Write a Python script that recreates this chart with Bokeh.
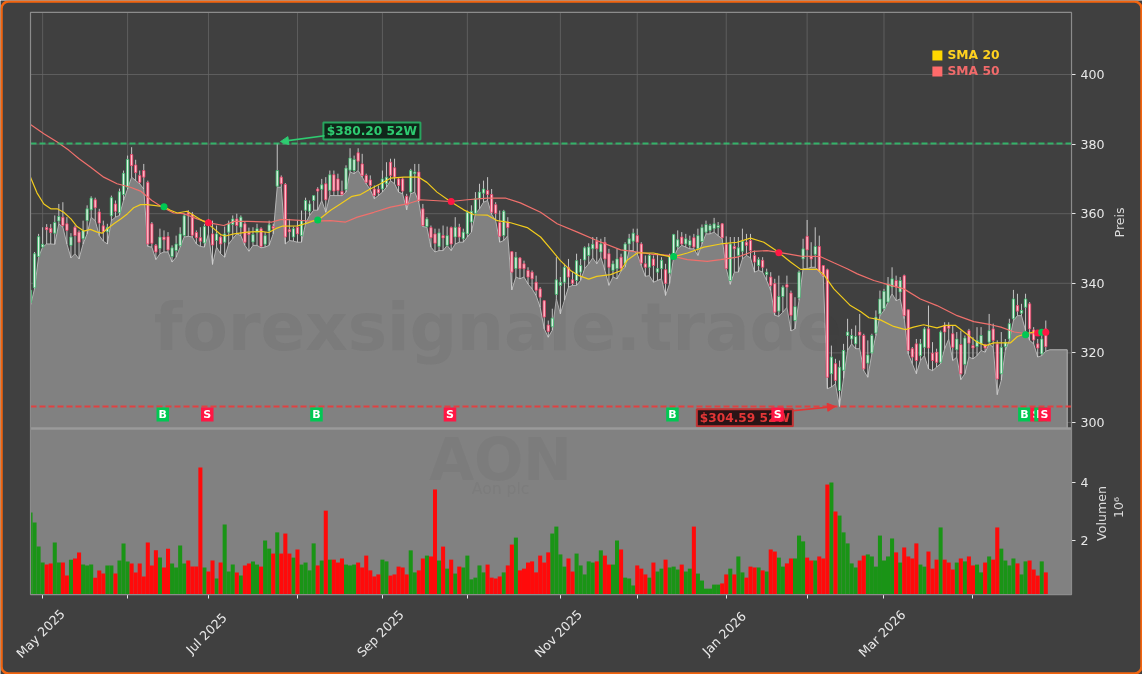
from math import pi
from bokeh.plotting import figure
from bokeh.models import Range1d, LinearAxis, FixedTicker, Label, Arrow, NormalHead, BoxAnnotation
from bokeh.core.properties import value
from bokeh.embed import file_html
from bokeh.resources import INLINE

# ---- data ----
opens = [334.5,338.7,347.7,350.4,356,355.8,354.4,357.9,359,357.1,
350.9,356.1,354.7,352.8,358,361.1,364,360.5,356.5,354.8,
359.4,362.8,360.3,365.5,367.6,377,374,371,372.4,369,
357.1,350.9,350,353.3,353.4,347.7,349.4,350.8,353.7,360.3,
359.8,354.6,353.1,351.6,357.8,354.2,352.3,353.3,351.8,354.7,
356.9,358.5,356.1,357.1,354.7,351.9,354.6,355.7,351.2,355,
356.3,367.9,370.5,368.4,355.4,353.3,356.1,353.7,361,360.7,
363.8,367.1,367,368.6,366.7,371.2,370,366.4,366.9,372.5,
372.4,377.5,374.3,371,369.7,367.1,367,367.1,368.6,374.8,
373.2,370,370,365,366.2,371.5,372,361.4,356.3,356,
354.2,350.6,353.7,350.9,356,353.3,356.1,352.8,354.2,357.6,
360.1,364.3,365.9,366.7,365.5,362.6,357.5,353.7,357.6,349.1,
344.2,347.3,345.6,343.7,343.2,340.3,338.4,335,328,327.5,
336.8,339.4,340.3,344.6,341,340.8,343.2,346.7,348,349.9,
352.1,349,351.8,348.5,343.7,344.2,347.5,345.6,351.3,352.1,
353.7,351.3,345.6,344.6,347,343.2,344.2,343.9,342.9,348.5,
350.5,353.3,351.3,350.9,353.1,349.9,352,354.7,355.2,355.7,
356,357.1,351.3,340.8,350.6,348,349.2,351.8,352.3,348,
345.1,346.6,342.5,341.8,339.9,332,336.2,339.6,337.2,329.3,
335.8,347,353.5,347.7,348.3,350.6,345.1,343.9,314,316.9,
309.2,315,325,324,322.6,326,325,317.05,320,325.7,
331.2,332.7,334.6,338.9,340.8,337.5,342.2,332.4,321.2,322.6,
319.2,321.6,326.9,319.9,320.2,317.3,327.9,327.9,325.5,320.9,
322.4,316.7,326.4,322.1,321.8,322.6,322.4,323.1,326.9,322.6,
314,321.8,324,329.8,333.6,331.4,333.1,334.1,326.6,322.6,319.7,326.9]
highs = [338.2,349,354.2,356.1,357,357,359.5,362.8,363.3,359,
354.4,356.6,355.2,358,362.4,365,364.6,361.4,358,357.1,
365.2,363.8,367.2,372.4,376.7,379.1,375.5,372.4,374.3,369.5,
357.6,351.3,355.7,355.2,354.7,350.9,353.7,356.1,360,361,
360.5,355.2,356.1,357.1,358.5,358,356.6,353.7,356.3,358,
359.5,360,359.5,357.6,356,356.1,357.1,356.1,354.7,358,
357.1,380.2,371,368.8,358.5,356.3,358,360.9,364.6,363.8,
365.2,367.6,370,370.5,372.4,372.4,371.5,369.5,373.9,378.8,
376.7,378.8,377.2,371.5,371,368.1,368.1,372.4,374.8,375.8,
375.8,370.5,370.5,365.7,372.9,374.3,374.3,362.8,359,356.6,
355.7,355.7,356.6,356.3,356.3,359,357.1,355.7,360.9,362.4,
366.2,368.6,369.5,370.5,367.1,363.3,360.9,361.1,359,349.2,
349,347.5,346.5,344.6,343.7,342.2,338.9,335.1,329.3,332.7,
347.5,341.8,345.6,347,343.2,348.5,347,350.6,351.5,353.3,
353.3,352.8,353.3,349.9,346.5,349.9,348.5,351.8,354.2,355.7,
355.7,351.8,348,348.5,348,348.5,347.5,345.6,348.5,354.2,
355.2,354.7,354.2,353.7,354.2,355.7,356.9,358,357.1,358.8,
357.6,357.3,353.5,353.3,353.3,353.3,355.7,354.2,354.2,349.4,
347.5,347.5,344.2,343.2,341.3,342.2,339.4,342.2,337.9,336,
343.7,352.8,358.2,351.8,356.1,353.7,345.1,344.2,322.1,318.3,
317.8,322.6,329.8,326.9,327.9,331.2,325.5,323.6,325.5,332.2,
337.9,338.4,341.8,344.6,342.2,341.8,342.5,332.4,321.7,324,
324,327.4,333.6,323.1,321.2,326.4,328.8,328.8,327.9,326,
326.4,325,326.9,324.5,327.4,327.4,322.6,331.2,328.4,323.6,
326,324,329.8,338.1,337,334.1,337,334.6,327.4,324,326.4,329.3]
lows = [333.6,338.4,347.5,350.4,351.3,351.3,351.2,357.1,356.1,351.3,
347.3,348.5,347,351.3,354.2,359,358,353.7,352.1,351.3,
358,359,359.5,363.8,367.1,370.5,369.5,368.6,367.1,350.6,
350.4,346.8,348.5,349,349,346.1,347.5,350.4,353.3,353.5,
353.3,351.3,350.6,350.4,354.2,345.4,350.4,348.5,347.5,351.3,
352.8,354.2,353.7,350.9,349.2,350.9,350.9,350.2,350.4,350.9,
354.2,367.6,367.6,351.3,352.3,352.1,351.8,351.8,357.1,359.5,
361,361,363.8,360.4,365.2,365.2,365.2,365.2,366.2,372,
371.5,372.4,370.5,368.6,366.9,364.3,365.2,366.2,367.6,369.5,
368.6,366.2,365.7,361.1,365.7,366.2,363.3,356.3,356.1,350.4,
349,349.4,349.4,350.9,349.4,351.3,351.8,351.8,353.3,354.7,
360,361.4,363.3,363.8,359.8,358,351.8,352.3,353.7,338.1,
341.8,341.3,341.8,339.8,338.4,336.5,333.1,326.9,324.5,326.5,
335.6,331.2,335.1,338.9,339.4,339.4,340.8,344.2,345.6,347.3,
345.6,347.5,343.7,339.4,341.8,341.3,343.5,344.6,349.4,349.4,
348.5,345.1,342,342.2,340.3,340.8,341.3,336.5,339.9,347.5,
349.9,350.9,350.4,349.9,349.9,348,351.3,354.2,354.2,354.7,
353.7,352.8,344.2,339.7,343.2,343.2,347,348,347.3,343.2,
343.7,343.2,340.8,337.9,330.8,330.5,331.7,333.1,326.3,326.9,
335.1,344.2,344.2,344.6,344.6,343.2,341.8,309.7,310.2,311.1,
304.6,312.6,320.7,322.6,321.2,321.2,314.9,313,319.7,325,
330.7,332.2,334.6,337,335,335.5,329.8,319.7,316.9,314,
317.8,319.2,315.4,314.9,315.9,316.9,321.2,324,317.8,318.8,
312.3,314,318.8,318.3,319.2,320.7,320.2,322.6,321.6,308,
312.1,320.7,323.6,329.3,330.7,330.7,326.4,323.6,322.6,318.8,319.2,320.5]
closes = [338,348.5,353.4,351.2,355.4,354.6,357.5,359.2,356.6,355.2,
353.3,353.7,351.8,355.2,361.4,364.5,361.7,357.3,354.8,356.1,
364.6,360.7,366.3,371.6,375.6,373.8,371.8,369,370.5,351.3,
351.5,349,353.3,352.5,349.6,350.2,351.3,354.2,359.4,359.8,
353.8,353.1,352.1,356.3,356.7,351,354.2,351.3,354.2,357.1,
358.5,356.6,359,351.8,354,354,355.7,350.6,353.7,356.8,
355.8,372.4,368.6,353.3,354.8,355.7,354.2,358,363.8,362.8,
365.2,366.5,368.3,364,371.2,366.5,366.7,365.5,373.1,376,
375.6,375.1,371,369,368.1,365.2,366,370,370.5,371,
370.5,368.1,366.5,362.6,372.4,372,363.8,356.6,358.5,353.1,
351.5,354.5,353,353.7,351.3,356.1,353.3,354.7,360.4,360.7,
364.3,366.2,367.1,365.5,360.4,360.1,353.5,360.7,356,343.2,
347.5,344.2,344.2,341.8,341.3,338,336,330.3,326.2,330,
341,340.3,344.6,341.8,340,346.5,345.1,350.2,350.4,351.2,
349.9,351.3,347,344.6,345.6,347,344.2,351.3,352.8,354.4,
351.8,345.8,344.6,348,345.1,344.2,346.6,340,347.7,354,
352.5,351.3,352.8,352.3,350.4,353.7,356,356.9,356.6,357.1,
356.6,353.1,344.2,351.3,349.9,350.2,352.1,350.9,349.4,346.1,
346.8,344.6,343.2,339.4,331.7,336.2,338.9,338.9,330.8,333.3,
343.2,349.9,349.6,347,350.6,343.5,342.2,313,318.8,312.1,
315.9,320.7,326,325,324.7,325.1,315.4,319.4,325,330.3,
335.5,337.7,339.7,341.3,338.9,340.8,330.7,320.7,318.8,317.8,
322.6,326.9,321.4,317.8,317.3,326,326,327.1,321.6,324,
314,324.3,322.8,321.4,323.6,325,321.4,326.4,323.6,312.5,
321.6,323.1,328.4,335.5,332,332.2,335.5,326.9,323.7,321.4,324,321.8]
volumes = [2.97,2.62,1.79,1.24,1.17,1.21,1.93,1.24,1.24,0.79,
1.34,1.38,1.59,1.17,1.14,1.17,0.72,0.97,0.86,1.14,
1.14,0.86,1.31,1.90,1.28,1.21,0.90,1.21,0.76,1.93,
1.14,1.66,1.41,1.07,1.72,1.21,1.07,1.83,1.21,1.31,
1.10,1.10,4.52,1.07,0.93,1.31,0.69,1.24,2.55,0.93,
1.17,0.90,0.79,1.14,1.21,1.28,1.17,1.10,2.0,1.72,
1.55,2.28,1.55,2.24,1.55,1.41,1.69,1.17,1.24,0.97,
1.90,1.14,1.31,3.03,1.34,1.34,1.24,1.38,1.17,1.14,
1.17,1.24,1.07,1.48,0.97,0.76,0.83,1.34,1.28,0.79,
0.83,1.10,
1.07,.83,1.66,.90,.97,1.38,1.48,1.45,3.76,1.31,1.79,1.03,1.34,.86,1.10,1.07,1.48,.66,.72,1.14,
.90,1.17,.72,.69,.76,.90,1.14,1.86,2.10,.97,1.03,1.24,1.28,.90,1.48,1.24,1.59,2.24,2.48,1.52,
1.10,1.38,.93,1.55,1.14,.83,1.28,1.24,1.28,1.66,1.48,1.17,1.17,2.0,1.69,.72,.69,.45,1.14,1.03,
.83,.72,1.24,.93,1.03,1.34,1.07,1.10,1.0,1.17,.93,1.03,2.48,.86,.62,.34,.34,.48,.48,.52,
.83,1.03,.83,1.45,.90,.72,1.10,1.07,1.07,
.97,.93,1.69,1.62,1.41,1.10,1.21,1.38,1.38,2.17,1.97,1.41,1.31,1.31,1.45,1.38,3.93,4.0,3.0,2.86,
2.28,1.90,1.21,1.07,1.31,1.48,1.52,1.45,1.10,2.17,1.31,1.45,2.07,1.59,1.24,1.76,1.45,1.38,1.90,1.17,
1.10,1.62,1.03,1.34,2.45,1.34,1.24,1.0,1.24,1.38,1.28,1.45,1.14,1.17,.90,1.24,1.45,1.34,2.45,1.72,
1.31,1.14,1.38,1.21,.83,1.28,1.31,1.0,.79,1.28,.90]

sma20_x = [0,1.6,3.3,5,6.6,8.2,10,11.5,13.2,14.8,16.5,17.7,19,20.6,22.3,24,25.5,27.2,28.8,30.5,33,34.6,36.3,38.7,40.4,42,43.7,45.3,47,48.2,50.3,53.6,56.9,58.9,60.6,62.2,66,68.4,71.7,74.2,76.6,79.5,81.6,84,86.5,89,92.3,96,98,100.5,103.8,107.1,109.6,112.9,115.4,118.7,122.8,126.1,128.6,131,133.5,135.6,138,140,143.4,145.9,147.5,150,154,156.6,158.6,162.4,166.5,170.6,174.7,178,181.3,184.6,187.9,190.4,194.5,196.1,198.6,202.7,205.2,207.3,210.1,213.4,216.3,218.3,220.8,224.1,226.2,228.7,231.6,234,236.1,238.2,242.3,244,246,248,251]
sma20_y = [370.5,366,362.8,361.4,361.4,360.4,358.5,356.3,355,355.5,354.7,354.4,355.7,357.1,358.5,360,361.7,362.6,362.6,362.4,362,361,360.2,360.7,359.5,358.3,357.3,355.7,354,353.6,354.2,354.7,354.9,354.6,355.7,356.4,356.5,357.3,358.7,361,362.8,365,365.5,367.1,368.6,370.2,370.5,370.5,369,366.2,363.5,361.1,359.7,359.6,358,357.4,356,353.3,349.9,346.5,343.7,342.2,341.2,342,342.5,343.6,346.6,348.7,348.7,348,347.5,348.7,350.4,351.3,351.8,353,351.8,349.2,346.1,344,344,342.5,338.4,333.6,331.9,330.1,329.5,327.6,326.7,327.4,328.1,327.2,327.9,327.9,325.3,323.1,322.1,322.9,322.9,324.7,325.5,326,325.9]
sma50_x = [0,3.3,6.6,9.5,12,14.8,18.1,21.4,24.7,27.2,30,32.5,35.4,37.9,41.2,44.5,47.8,50.3,53.6,59.7,61.8,63.5,69.2,74.2,77.9,80.8,84.9,89,93.1,96.4,103.8,108,112.9,117.4,121.1,126.1,130.2,135.2,140,145.9,150,154,158,162.4,167.3,170.6,174.7,178.8,182.1,185.4,190.4,195.2,198.6,201.9,204.4,208.5,210.9,215.9,220,224.1,229.1,233.2,237.4,239.9,243.2,246.5,249,251.3]
sma50_y = [385.6,383,380.6,378.2,375.8,373.4,370.5,368.6,367.6,366.5,363.8,361.9,360.2,360,358.5,357.3,356.6,357.8,357.8,357.6,358.3,358.3,357.9,358,357.6,359,360.4,361.9,362.8,364,363.5,364,364.5,364.5,363.1,360.4,357.1,354.7,352.3,349.6,349,348.3,348,346.8,346.3,346.8,347.5,349.2,349.4,348.8,347.8,347.7,345.9,344.2,342.7,340.8,340,338.4,335.5,333.6,330.7,329,328.1,327.4,326,325.5,325.5,325.7]

sig_x = [33,44,71,104,159,185,246,249,250,251]
sig_y = [362,357.4,358.2,363.5,347.7,348.8,325.2,325.7,325.9,325.9]
sig_k = ["B","S","B","S","B","S","B","S","B","S"]

x_ticks = [3,24,44,66,87,108,131,150,172,192,211,233]
x_labels = {3:"May 2025",44:"Jul 2025",87:"Sep 2025",131:"Nov 2025",172:"Jan 2026",211:"Mar 2026"}
price_ticks = [300,320,340,360,380,400]
vol_ticks = [2,4]
high_52w, low_52w = 380.20, 304.59
last_level = 320.9

# ---- scales: the frame fills the whole page, the panels sit inside it ----
XMIN, XMAX = 0, 257.36          # panel width in bars
PMIN, PMAX = 250.57, 417.82     # price scale at the panel's bottom and top
VBOT, VTOP = 0.138, 5.86        # volume scale of the lower panel
SPLIT = 298.3                   # price level where the panels meet
LABEL_Y = 239.37

BG = "#404040"
PANEL = "#818181"
p = figure(width=1142, height=674, output_backend="svg", toolbar_location=None,
           x_range=Range1d(-7.417, 274.91), y_range=Range1d(227.59, 421.26),
           x_axis_type=None, y_axis_type=None,
           min_border_left=0, min_border_right=0, min_border_top=0, min_border_bottom=0,
           background_fill_color=BG, border_fill_color=BG, outline_line_color=None)
p.styles = {"position": "fixed", "left": "0px", "top": "0px"}
p.grid.visible = False
p.extra_y_ranges = {"vol": Range1d(-2.62, 20.62)}

# grid
GRID = "#666666"
p.segment(x_ticks, [SPLIT] * len(x_ticks), x_ticks, [PMAX] * len(x_ticks), line_color=GRID, line_width=0.8)
p.segment([XMIN] * len(price_ticks), price_ticks, [XMAX] * len(price_ticks), price_ticks, line_color=GRID, line_width=0.8)

# axes
def style(a, line):
    a.axis_line_color = line
    a.major_tick_line_color = "#e8e8e8"
    a.major_tick_out = 4
    a.major_tick_in = 0
    a.minor_tick_line_color = None
    a.major_label_text_color = "#e8e8e8"
    a.major_label_text_font = "DejaVu Sans"
    a.major_label_text_font_size = "12.6px"
    a.major_label_standoff = 5

ax = LinearAxis(fixed_location=PMIN, bounds=(XMIN, XMAX), ticker=FixedTicker(ticks=x_ticks),
                major_label_overrides={t: "" for t in x_ticks})
style(ax, "#a0a0a0")
p.add_layout(ax, "below")
ay = LinearAxis(fixed_location=XMAX, bounds=(SPLIT, PMAX), ticker=FixedTicker(ticks=price_ticks))
style(ay, "#8c8c8c")
p.add_layout(ay, "right")
av = LinearAxis(fixed_location=XMAX, y_range_name="vol", bounds=(VBOT, VTOP), ticker=FixedTicker(ticks=vol_ticks))
style(av, "#8c8c8c")
p.add_layout(av, "right")

# area of the lows
n = len(closes)
area_x = list(range(n)) + [n, 256.3]
area_y = lows + [last_level, last_level]
p.varea(area_x, [SPLIT] * len(area_x), area_y, fill_color=PANEL)
p.line(area_x + [area_x[-1]], area_y + [SPLIT], line_color="#b4b4b4", line_width=1)
p.quad(left=[XMIN], right=[XMAX], bottom=[PMIN], top=[SPLIT], fill_color=PANEL, line_color=None)

# watermark
wm = value("DejaVu Sans")
p.text([115.5], [327.3], ["forexsignale.trade"], text_font=wm, text_font_style="bold", text_font_size="66px",
       text_align="center", text_baseline="middle", text_color="#3a3a3a", text_alpha=0.075)
p.text([116.2], [289.1], ["AON"], text_font=wm, text_font_style="bold", text_font_size="58px",
       text_align="center", text_baseline="middle", text_color="#3a3a3a", text_alpha=0.055)
p.text([116.2], [280.8], ["Aon plc"], text_font=wm, text_font_size="15.6px",
       text_align="center", text_baseline="middle", text_color="#3a3a3a", text_alpha=0.055)

# volume bars
up = [c >= o for o, c in zip(opens, closes)]
xs = list(range(n))
for flag, color in ((True, "#1a9416"), (False, "#ff0a0a")):
    idx = [i for i in xs if up[i] == flag]
    p.quad(left=[max(i - 0.5, XMIN) for i in idx], right=[i + 0.5 for i in idx],
           top=[volumes[i] for i in idx], bottom=[VBOT] * len(idx), y_range_name="vol",
           fill_color=color, line_color=None)

# candles
p.segment(xs, lows, xs, highs, line_color="#d4d4d4", line_width=0.9)
for flag, face, edge in ((True, "#e2f2e8", "#37b868"), (False, "#ffc4cf", "#ee3d66")):
    idx = [i for i in xs if up[i] == flag]
    p.quad(left=[max(i - 0.28, XMIN) for i in idx], right=[i + 0.28 for i in idx],
           top=[max(opens[i], closes[i]) for i in idx], bottom=[min(opens[i], closes[i]) for i in idx],
           fill_color=face, line_color=edge, line_width=0.8)

# moving averages
p.line(sma50_x, sma50_y, line_color="#f0706c", line_width=1.2)
p.line(sma20_x, sma20_y, line_color="#f2cc1c", line_width=1.2)

# crossing dots
for x, y, k in zip(sig_x, sig_y, sig_k):
    p.scatter([x], [y], marker="circle", size=7, line_color=None,
              fill_color="#00c853" if k == "B" else "#ff1744")

# 52-week lines
p.line([XMIN, XMAX], [high_52w, high_52w], line_color="#2ecc71", line_alpha=0.8, line_width=2, line_dash="6 3")
p.line([XMIN, XMAX], [low_52w, low_52w], line_color="#ea3a3a", line_alpha=0.9, line_width=2, line_dash="6 3")

# call-outs
font = value("DejaVu Sans")
p.rect([84.4], [383.76], width=97, height=17, width_units="screen", height_units="screen",
       fill_color="#10271a", line_color="#27a55e", line_width=2)
p.text([84.4], [383.76], ["$380.20 52W"], text_font=font, text_font_style="bold", text_font_size="12.2px",
       text_align="center", text_baseline="middle", text_color="#2ecc71")
p.rect([176.6], [301.4], width=96, height=17, width_units="screen", height_units="screen",
       fill_color="#2a1416", line_color="#c23333", line_width=2)
p.text([176.6], [301.4], ["$304.59 52W"], text_font=font, text_font_style="bold", text_font_size="12.2px",
       text_align="center", text_baseline="middle", text_color="#e33636")
p.add_layout(Arrow(end=NormalHead(size=8, fill_color="#2ecc71", line_color="#2ecc71"),
                   x_start=72.7, y_start=382.4, x_end=61.8, y_end=380.7, line_color="#2ecc71", line_width=1.6))
p.add_layout(Arrow(end=NormalHead(size=8, fill_color="#e33636", line_color="#e33636"),
                   x_start=188.6, y_start=303.4, x_end=199, y_end=304.6, line_color="#e33636", line_width=1.6))

# B / S flags
FLAG_Y = 302.3
for x, k in zip(sig_x, sig_k):
    p.rect([x - 0.3], [FLAG_Y], width=12.5, height=14, width_units="screen", height_units="screen",
           fill_color="#00c853" if k == "B" else "#ff1744", line_color=None)
    p.text([x - 0.3], [FLAG_Y], [k], text_font=font, text_font_style="bold", text_font_size="11px",
           text_align="center", text_baseline="middle", text_color="#ffffff")

# legend
p.scatter([224.2], [405.46], marker="square", size=10, fill_color="#ffd700", line_color=None)
p.scatter([224.2], [400.86], marker="square", size=10, fill_color="#ff6b6b", line_color=None)
p.text([226.7], [405.46], ["SMA 20"], text_font=font, text_font_style="bold", text_font_size="12.3px",
       text_baseline="middle", text_color="#ffd21f")
p.text([226.7], [400.86], ["SMA 50"], text_font=font, text_font_style="bold", text_font_size="12.3px",
       text_baseline="middle", text_color="#f06a6a")

# panel frames and separator
p.line([XMIN, XMAX], [SPLIT, SPLIT], line_color="#9a9a9a", line_width=2.5)
p.add_layout(BoxAnnotation(left=XMIN, right=XMAX, bottom=PMIN, top=PMAX, fill_alpha=0,
                           line_color="#8c8c8c", line_alpha=1, line_width=1.2))

# page frame
p.add_layout(BoxAnnotation(left=1, right=1141, top=1, bottom=673,
                           left_units="canvas", right_units="canvas", top_units="canvas", bottom_units="canvas",
                           fill_alpha=0, line_color="#f2640f", line_alpha=1, line_width=2.5, border_radius=7))

# axis titles
for txt, x, y in (("Preis", 269.2, 357.5), ("Volumen", 264.8, 273.85), ("10\u2076", 269, 275.6)):
    p.add_layout(Label(x=x, y=y, text=txt, angle=pi / 2, text_align="center", text_baseline="middle",
                       text_color="#dcdcdc", text_font="DejaVu Sans", text_font_size="12.6px"))

# date labels
for t, txt in x_labels.items():
    p.add_layout(Label(x=t - 0.5, y=LABEL_Y, text=txt, angle=pi / 4, text_align="center", text_baseline="middle",
                       text_color="#e8e8e8", text_font="DejaVu Sans", text_font_size="12.6px"))

open("out.html", "w").write(file_html(p, INLINE))
